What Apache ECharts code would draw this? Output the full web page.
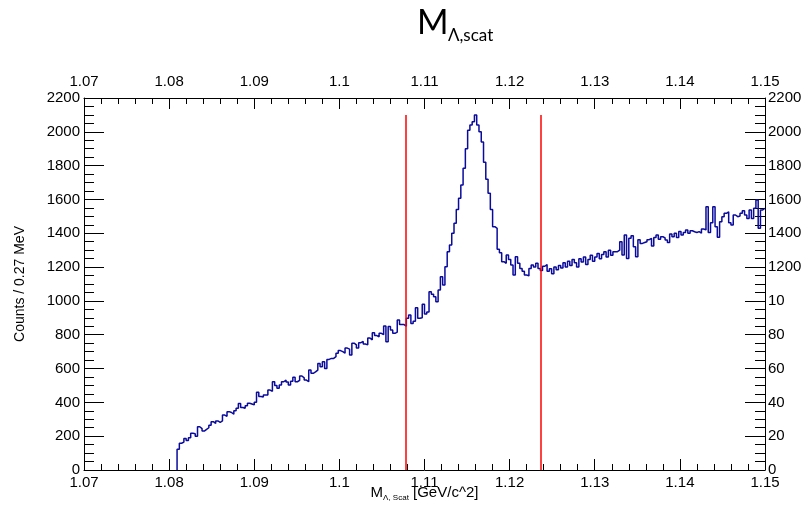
<!DOCTYPE html>
<html><head><meta charset="utf-8">
<script src="https://cdn.jsdelivr.net/npm/echarts@6/dist/echarts.min.js"></script>
<style>html,body{margin:0;padding:0;background:#fff}#c{width:802px;height:508px}</style>
</head><body><div id="c"></div>
<script>
// Histogram binning: 300 bins over [1.07, 1.15]; bins before firstBin are empty
const xMin = 1.07, xMax = 1.15, nBins = 300, firstBin = 41;
const counts = [
  122,158,165,187,175,190,217,215,200,256,
  245,230,240,250,265,286,275,290,282,290,
  325,318,345,340,330,350,365,394,370,365,
  380,395,390,385,400,460,435,431,444,444,
  473,465,522,500,483,503,522,532,520,503,
  525,548,522,530,556,545,532,522,591,572,
  580,591,630,610,640,601,654,660,660,670,
  691,706,700,691,721,715,680,750,740,721,
  753,760,745,740,780,770,812,795,788,808,
  800,852,759,848,828,808,815,887,860,860,
  850,897,916,867,880,960,897,900,980,922,
  935,1054,1040,1025,995,1064,1143,1094,1202,1290,
  1331,1400,1459,1540,1607,1685,1784,1900,2010,2040,
  2060,2100,2040,2000,1940,1820,1720,1636,1541,1439,
  1429,1305,1285,1232,1222,1271,1245,1212,1153,1261,
  1222,1192,1175,1153,1148,1192,1212,1200,1222,1192,
  1180,1205,1215,1175,1190,1160,1200,1185,1210,1195,
  1225,1200,1235,1210,1245,1225,1200,1250,1230,1260,
  1215,1245,1270,1235,1260,1280,1250,1275,1290,1260,
  1300,1270,1290,1291,1300,1350,1271,1390,1251,1370,
  1385,1320,1261,1362,1340,1345,1350,1362,1370,1324,
  1375,1390,1365,1380,1372,1360,1345,1395,1380,1400,
  1375,1410,1390,1405,1420,1400,1415,1409,1405,1410,
  1400,1425,1420,1557,1405,1462,1557,1439,1376,1468,
  1498,1518,1527,1462,1449,1508,1498,1502,1518,1533,
  1508,1488,1538,1488,1548,1597,1429,1538,1548
];
// Mass window cuts (red lines)
const cutLow = 1.1078, cutHigh = 1.1236, cutTop = 2100;
// Right axis tick labels as they appear (clipped at the canvas edge)
const rightTickValues = [0,200,400,600,800,1000,1200,1400,1600,1800,2000,2200];
const rightTickTexts  = ['0','20','40','60','80','10','1200','1400','1600','1800','2000','2200'];

const binW = (xMax - xMin) / nBins;
const histData = [[xMin + firstBin * binW, 0]];
counts.forEach((v, k) => histData.push([xMin + (firstBin + k) * binW, v]));
histData.push([xMax, counts[counts.length - 1]]);

const axisFont = 'Liberation Sans';
const xCommon = {
  type: 'value', min: xMin, max: xMax, interval: 0.01,
  axisLine: {show: true, onZero: false, lineStyle: {color: '#000', width: 1}},
  axisTick: {show: true, inside: true, length: 11, lineStyle: {color: '#000'}},
  minorTick: {show: true, splitNumber: 5, length: 6, lineStyle: {color: '#000'}},
  splitLine: {show: false},
  axisLabel: {color: '#000', fontFamily: axisFont, fontSize: 15,
              formatter: v => String(+v.toFixed(2))}
};
const yCommon = {
  type: 'value', min: 0, max: 2200, interval: 200,
  axisLine: {show: true, onZero: false, lineStyle: {color: '#000', width: 1}},
  axisTick: {show: true, inside: true, length: 20, lineStyle: {color: '#000'}},
  minorTick: {show: true, splitNumber: 4, length: 10, lineStyle: {color: '#000'}},
  splitLine: {show: false}
};

const chart = echarts.init(document.getElementById('c'), null, {renderer: 'canvas'});
chart.setOption({
  animation: false,
  backgroundColor: '#fff',
  grid: {left: 84, right: 37, top: 98, bottom: 38, containLabel: false, outerBoundsMode: 'none'},
  graphic: [
    {type: 'text', left: 417, top: 6, style: {text: 'M', font: '34px Lato', fill: '#000'}},
    {type: 'text', left: 448, top: 27, style: {text: 'Λ,scat', font: '17px Lato', fill: '#000'}}
  ],
  xAxis: [
    Object.assign({}, xCommon, {
      position: 'bottom',
      axisLabel: Object.assign({}, xCommon.axisLabel, {margin: 5}),
      name: '{m|M}{s|Λ, Scat}{m| [GeV/c^2]}',
      nameLocation: 'middle', nameGap: 14, nameMoveOverlap: false,
      nameTextStyle: {rich: {
        m: {fontFamily: axisFont, fontSize: 15, color: '#000', lineHeight: 18, verticalAlign: 'middle'},
        s: {fontFamily: axisFont, fontSize: 8, color: '#000', lineHeight: 18, verticalAlign: 'bottom'}
      }}
    }),
    Object.assign({}, xCommon, {
      position: 'top',
      axisLabel: Object.assign({}, xCommon.axisLabel, {margin: 9})
    })
  ],
  yAxis: [
    Object.assign({}, yCommon, {
      position: 'left',
      axisLabel: {color: '#000', fontFamily: axisFont, fontSize: 15, margin: 4,
                  formatter: v => String(v)},
      name: 'Counts / 0.27 MeV', nameLocation: 'middle', nameGap: 57, nameRotate: 90,
      nameTextStyle: {fontFamily: axisFont, fontSize: 14, color: '#000'}
    }),
    Object.assign({}, yCommon, {
      position: 'right',
      axisLabel: {color: '#000', fontFamily: axisFont, fontSize: 15, margin: 3,
        formatter: v => { const i = rightTickValues.indexOf(v); return i >= 0 ? rightTickTexts[i] : ''; }}
    })
  ],
  series: [{
    type: 'line', xAxisIndex: 0, yAxisIndex: 0, step: 'end',
    data: histData, showSymbol: false, symbol: 'none',
    lineStyle: {color: '#0a0a9c', width: 1.5},
    clip: true,
    markLine: {
      silent: true, symbol: 'none', label: {show: false},
      lineStyle: {color: '#ff0000', width: 1.5, type: 'solid'},
      data: [
        [{coord: [cutLow, 0]}, {coord: [cutLow, cutTop]}],
        [{coord: [cutHigh, 0]}, {coord: [cutHigh, cutTop]}]
      ]
    }
  }]
});
</script></body></html>
